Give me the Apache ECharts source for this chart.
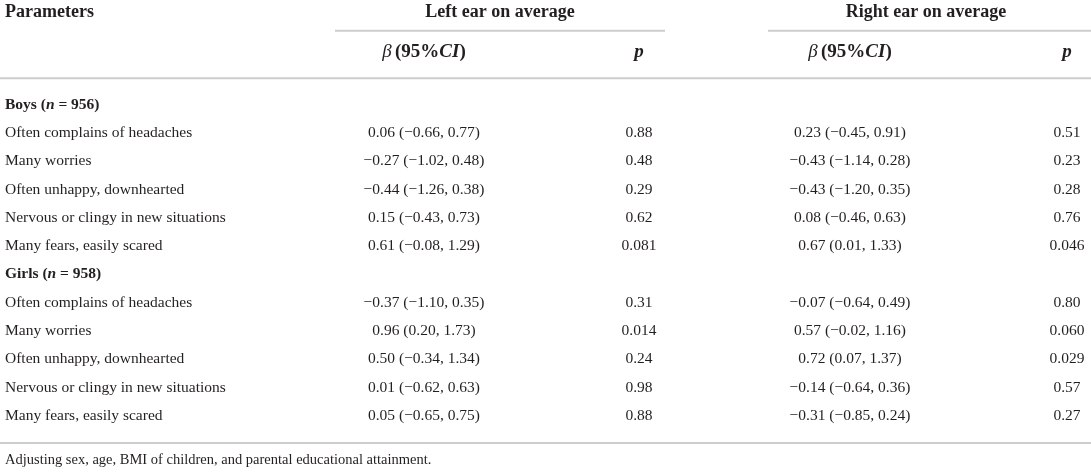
<!DOCTYPE html>
<html>
<head>
    <meta charset="utf-8" />
    <title>Ear hearing and emotional symptoms</title>
    <script src="https://cdn.jsdelivr.net/npm/echarts@6/dist/echarts.min.js"></script>
    <style>
        html, body { margin: 0; padding: 0; background: #fff; }
        #table { width: 1091px; height: 472px; }
    </style>
</head>
<body>
<div id="table"></div>
<script type="text/javascript">
    // table data
    var parameters = ['Often complains of headaches', 'Many worries', 'Often unhappy, downhearted',
        'Nervous or clingy in new situations', 'Many fears, easily scared'];
    var groups = ['Boys', 'Girls'];
    var groupN = [956, 958];

    var boysLeftBeta = [0.06, -0.27, -0.44, 0.15, 0.61];
    var boysLeftLow = [-0.66, -1.02, -1.26, -0.43, -0.08];
    var boysLeftHigh = [0.77, 0.48, 0.38, 0.73, 1.29];
    var boysLeftP = [0.88, 0.48, 0.29, 0.62, 0.081];
    var boysRightBeta = [0.23, -0.43, -0.43, 0.08, 0.67];
    var boysRightLow = [-0.45, -1.14, -1.20, -0.46, 0.01];
    var boysRightHigh = [0.91, 0.28, 0.35, 0.63, 1.33];
    var boysRightP = [0.51, 0.23, 0.28, 0.76, 0.046];

    var girlsLeftBeta = [-0.37, 0.96, 0.50, 0.01, 0.05];
    var girlsLeftLow = [-1.10, 0.20, -0.34, -0.62, -0.65];
    var girlsLeftHigh = [0.35, 1.73, 1.34, 0.63, 0.75];
    var girlsLeftP = [0.31, 0.014, 0.24, 0.98, 0.88];
    var girlsRightBeta = [-0.07, 0.57, 0.72, -0.14, -0.31];
    var girlsRightLow = [-0.64, -0.02, 0.07, -0.64, -0.85];
    var girlsRightHigh = [0.49, 1.16, 1.37, 0.36, 0.24];
    var girlsRightP = [0.80, 0.060, 0.029, 0.57, 0.27];

    var headTitles = ['Parameters', 'Left ear on average', 'Right ear on average'];
    var footnote = 'Adjusting sex, age, BMI of children, and parental educational attainment.';

    // layout: x in px along the x axis, y in row units along the y axis
    var col = { param: 5, ci1: 424, p1: 639, ci2: 850, p2: 1067, head1: 500, head2: 926 };
    var rowY = { title: -3.27, underline: -2.6, sub: -1.84, headRule: -0.93, endRule: 11.95, note: 12.55 };

    var FONT = "'Liberation Serif', 'Times New Roman', serif";
    var INK = '#231f20';

    function num(v) {
        return (v < 0 ? '\u2212' : '') + Math.abs(v).toFixed(2);
    }
    function pval(v) {
        return v < 0.1 ? v.toFixed(3) : v.toFixed(2);
    }
    function ci(b, lo, hi, i) {
        return num(b[i]) + ' (' + num(lo[i]) + ', ' + num(hi[i]) + ')';
    }

    var rich = {
        r: { fontFamily: FONT, fontSize: 15.5, fill: INK },
        n: { fontFamily: FONT, fontSize: 14.5, fill: INK },
        b: { fontFamily: FONT, fontSize: 15.5, fontWeight: 'bold', fill: INK },
        bi: { fontFamily: FONT, fontSize: 15.5, fontWeight: 'bold', fontStyle: 'italic', fill: INK },
        h: { fontFamily: FONT, fontSize: 18, fontWeight: 'bold', fill: INK },
        s: { fontFamily: FONT, fontSize: 19, fontWeight: 'bold', fill: INK },
        si: { fontFamily: FONT, fontSize: 19, fontWeight: 'bold', fontStyle: 'italic', fill: INK },
        gi: { fontFamily: FONT, fontSize: 19, fontStyle: 'italic', fill: INK }
    };

    var cells = [];
    cells.push({ x: col.param, row: rowY.title, align: 'left', text: '{h|' + headTitles[0] + '}' });
    cells.push({ x: col.head1, row: rowY.title, align: 'center', text: '{h|' + headTitles[1] + '}' });
    cells.push({ x: col.head2, row: rowY.title, align: 'center', text: '{h|' + headTitles[2] + '}' });
    [col.ci1, col.ci2].forEach(function (x) {
        cells.push({ x: x, row: rowY.sub, align: 'center', text: '{gi|\u03b2} {s|(95%}{si|CI}{s|)}' });
    });
    [col.p1, col.p2].forEach(function (x) {
        cells.push({ x: x, row: rowY.sub, align: 'center', text: '{si|p}' });
    });

    var blocks = [
        [boysLeftBeta, boysLeftLow, boysLeftHigh, boysLeftP, boysRightBeta, boysRightLow, boysRightHigh, boysRightP],
        [girlsLeftBeta, girlsLeftLow, girlsLeftHigh, girlsLeftP, girlsRightBeta, girlsRightLow, girlsRightHigh, girlsRightP]
    ];
    blocks.forEach(function (d, g) {
        var base = g * (parameters.length + 1);
        cells.push({ x: col.param, row: base, align: 'left',
            text: '{b|' + groups[g] + ' (}{bi|n}{b| = ' + groupN[g] + ')}' });
        parameters.forEach(function (name, i) {
            var r = base + 1 + i;
            cells.push({ x: col.param, row: r, align: 'left', text: '{r|' + name + '}' });
            cells.push({ x: col.ci1, row: r, align: 'center', text: '{r|' + ci(d[0], d[1], d[2], i) + '}' });
            cells.push({ x: col.p1, row: r, align: 'center', text: '{r|' + pval(d[3][i]) + '}' });
            cells.push({ x: col.ci2, row: r, align: 'center', text: '{r|' + ci(d[4], d[5], d[6], i) + '}' });
            cells.push({ x: col.p2, row: r, align: 'center', text: '{r|' + pval(d[7][i]) + '}' });
        });
    });
    cells.push({ x: col.param, row: rowY.note, align: 'left', text: '{n|' + footnote + '}' });

    var rules = [
        [335, 665, rowY.underline],
        [768, 1091, rowY.underline],
        [0, 1091, rowY.headRule],
        [0, 1091, rowY.endRule]
    ];

    var chart = echarts.init(document.getElementById('table'), null, { renderer: 'canvas' });

    option = {
        animation: false,
        backgroundColor: '#fff',
        grid: { left: 0, right: 0, top: 104.5, bottom: 56 },
        xAxis: { type: 'value', min: 0, max: 1091, show: false },
        yAxis: { type: 'value', min: 0, max: 11, inverse: true, show: false },
        series: [
            {
                type: 'custom',
                coordinateSystem: 'cartesian2d',
                encode: { x: [0, 1], y: 2 },
                data: rules,
                silent: true,
                renderItem: function (params, api) {
                    var a = api.coord([api.value(0), api.value(2)]);
                    var b = api.coord([api.value(1), api.value(2)]);
                    return {
                        type: 'line',
                        shape: { x1: a[0], y1: a[1], x2: b[0], y2: b[1] },
                        style: { stroke: '#cdcdcd', lineWidth: 2 }
                    };
                }
            },
            {
                type: 'custom',
                coordinateSystem: 'cartesian2d',
                encode: { x: 0, y: 1 },
                data: cells.map(function (c) { return [c.x, c.row]; }),
                silent: true,
                renderItem: function (params, api) {
                    var c = cells[params.dataIndex];
                    var pt = api.coord([api.value(0), api.value(1)]);
                    return {
                        type: 'text',
                        style: {
                            x: pt[0], y: pt[1],
                            text: c.text,
                            rich: rich,
                            align: c.align, verticalAlign: 'middle',
                            textAlign: c.align, textVerticalAlign: 'middle'
                        }
                    };
                }
            }
        ]
    };

    chart.setOption(option);
</script>
</body>
</html>
